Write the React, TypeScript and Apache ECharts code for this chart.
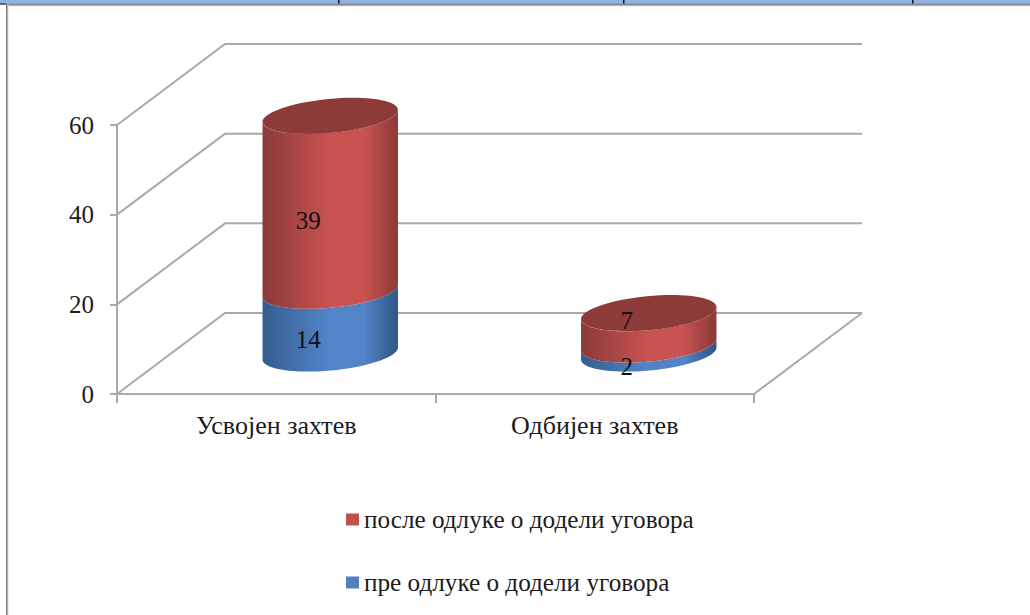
import React, { useEffect, useRef } from "react";
import * as echarts from "echarts";

const categories = ["Усвојен захтев", "Одбијен захтев"];
const beforeName = "пре одлуке о додели уговора";
const afterName = "после одлуке о додели уговора";
const beforeValues = [14, 2];
const afterValues = [39, 7];
const yTicks = [0, 20, 40, 60];

const DEPTH_X = 108;
const DEPTH_Y = -81;
const GRID = "#a9a9a9";
const INK = "#1c1c1c";
const SERIF = "'Liberation Serif', 'Times New Roman', serif";
const RX = 68;
const RY = 17;
const TILT = 0.095;
const SMALL_SEGMENT = 10;

const ellipsePoint = (cx: number, cy: number, t: number) => {
  const x = RX * Math.cos(t);
  const y = RY * Math.sin(t);
  return [
    cx + x * Math.cos(TILT) + y * Math.sin(TILT),
    cy - x * Math.sin(TILT) + y * Math.cos(TILT),
  ];
};

// Lower half of the tilted ellipse, between its two horizontal extremes.
const lowerArc = (cx: number, cy: number, reverse: boolean) => {
  const pts: number[][] = [];
  const n = 48;
  const t0 = Math.atan((RY / RX) * Math.tan(TILT));
  for (let i = 0; i <= n; i++) {
    const k = reverse ? n - i : i;
    pts.push(ellipsePoint(cx, cy, t0 + (Math.PI * k) / n));
  }
  return pts;
};

const sideGradient = (edgeL: string, mid: string, edgeR: string) =>
  new echarts.graphic.LinearGradient(0, 0, 1, 0, [
    { offset: 0, color: edgeL },
    { offset: 0.5, color: mid },
    { offset: 0.75, color: mid },
    { offset: 1, color: edgeR },
  ]);

const cylinder =
  (edgeL: string, mid: string, edgeR: string, cap: boolean) =>
  (params: any, api: any) => {
    const base = api.coord([api.value(0), api.value(1)]);
    const top = api.coord([api.value(0), api.value(2)]);
    const cx = base[0] + DEPTH_X / 2;
    const yBase = base[1] + DEPTH_Y / 2;
    const yTop = top[1] + DEPTH_Y / 2;
    const children: any[] = [
      {
        type: "polygon",
        shape: { points: [...lowerArc(cx, yBase, false), ...lowerArc(cx, yTop, true)] },
        style: { fill: sideGradient(edgeL, mid, edgeR), stroke: "none" },
      },
    ];
    if (cap) {
      children.push({
        type: "ellipse",
        x: cx,
        y: yTop,
        rotation: TILT,
        shape: { cx: 0, cy: 0, rx: RX, ry: RY },
        style: { fill: "#8c3b39", stroke: "none" },
      });
    }
    return { type: "group", children };
  };

const renderWalls = (params: any, api: any) => {
  const { x, width } = params.coordSys;
  const v = api.value(0);
  const py = api.coord([0, v])[1];
  const line = { stroke: GRID, lineWidth: 2, fill: "none" };
  const children: any[] = [
    {
      type: "polyline",
      shape: {
        points: [
          [x, py],
          [x + DEPTH_X, py + DEPTH_Y],
          [x + width + DEPTH_X, py + DEPTH_Y],
        ],
      },
      style: line,
    },
  ];
  if (v === 0) {
    children.push({
      type: "polyline",
      shape: {
        points: [
          [x + width + DEPTH_X, py + DEPTH_Y],
          [x + width, py],
        ],
      },
      style: line,
    });
  }
  return { type: "group", children };
};

export default function App() {
  const ref = useRef<HTMLDivElement>(null);
  useEffect(() => {
    const chart = echarts.init(ref.current!, null, { renderer: "svg" });
    chart.setOption({
      animation: false,
      backgroundColor: "#ffffff",
      textStyle: { fontFamily: SERIF },
      grid: { left: 117, top: 125, width: 637, height: 269 },
      xAxis: {
        type: "category",
        data: categories,
        axisLine: { lineStyle: { color: GRID, width: 2 } },
        axisTick: { show: true, length: 9, lineStyle: { color: GRID, width: 2 } },
        axisLabel: { color: INK, fontSize: 26, fontFamily: SERIF, margin: 18 },
        splitLine: { show: false },
      },
      yAxis: {
        type: "value",
        min: 0,
        max: 60,
        interval: 20,
        axisLine: { show: true, lineStyle: { color: GRID, width: 2 } },
        axisTick: { show: true, length: 7, lineStyle: { color: GRID, width: 2 } },
        axisLabel: { color: INK, fontSize: 25, fontFamily: SERIF, margin: 23 },
        splitLine: { show: false },
      },
      legend: {
        data: [afterName, beforeName],
        orient: "vertical",
        left: 346,
        top: 507,
        padding: 0,
        itemWidth: 13,
        itemHeight: 12,
        itemGap: 38,
        icon: "rect",
        textStyle: { color: INK, fontSize: 25.2, fontFamily: SERIF },
      },
      series: [
        {
          type: "custom",
          name: "walls",
          silent: true,
          data: yTicks.map((t) => [t]),
          renderItem: renderWalls,
          encode: { y: 0 },
          z: 1,
        },
        {
          type: "custom",
          name: beforeName,
          itemStyle: { color: "#4f81bd" },
          data: beforeValues.map((v, i) => [i, 0, v]),
          encode: { x: 0, y: [1, 2] },
          renderItem: cylinder("#345d8e", "#5285c8", "#2f5583", false),
          z: 2,
        },
        {
          type: "custom",
          name: afterName,
          itemStyle: { color: "#c0504d" },
          data: afterValues.map((v, i) => [i, beforeValues[i], beforeValues[i] + v]),
          encode: { x: 0, y: [1, 2] },
          renderItem: cylinder("#8a3a38", "#c95351", "#8a3a38", true),
          z: 3,
        },
        {
          type: "custom",
          name: "labels",
          silent: true,
          data: [
            ...beforeValues.map((v, i) => [i, v / 2, v, 0]),
            ...afterValues.map((v, i) =>
              v < SMALL_SEGMENT
                ? [i, beforeValues[i] + v, v, 1]
                : [i, beforeValues[i] + v / 2, v, 0]
            ),
          ],
          encode: { x: 0, y: 1 },
          renderItem: (params: any, api: any) => {
            const p = api.coord([api.value(0), api.value(1)]);
            const onCap = api.value(3) === 1;
            return {
              type: "text",
              x: p[0] + DEPTH_X / 2 - 22,
              y: p[1] + DEPTH_Y / 2 + (onCap ? 7 : 17),
              style: {
                text: String(api.value(2)),
                fill: "#111111",
                font: `25px ${SERIF}`,
                align: "center",
                verticalAlign: "middle",
              },
            };
          },
          z: 4,
        },
      ],
      graphic: [
        { type: "rect", shape: { x: 0, y: 0, width: 1030, height: 3.4 }, style: { fill: "#8db3e2" }, z: 10 },
        { type: "rect", shape: { x: 0, y: 3.4, width: 6, height: 1.2 }, style: { fill: "#111111" }, z: 10 },
        {
          type: "rect",
          shape: { x: 6, y: 3.4, width: 1024, height: 2.8 },
          style: {
            fill: new echarts.graphic.LinearGradient(0, 0, 0, 1, [
              { offset: 0, color: "#5f5f5f" },
              { offset: 1, color: "#cfcfcf" },
            ]),
          },
          z: 10,
        },
        {
          type: "rect",
          shape: { x: 6, y: 4, width: 2.4, height: 611 },
          style: {
            fill: new echarts.graphic.LinearGradient(0, 0, 1, 0, [
              { offset: 0, color: "#6f6f6f" },
              { offset: 1, color: "#d5d5d5" },
            ]),
          },
          z: 10,
        },
        { type: "rect", shape: { x: 338, y: 0, width: 1.5, height: 3.6 }, style: { fill: "#111111" }, z: 11 },
        { type: "rect", shape: { x: 623, y: 0, width: 1.5, height: 3.6 }, style: { fill: "#111111" }, z: 11 },
        { type: "rect", shape: { x: 912, y: 0, width: 1.5, height: 3.6 }, style: { fill: "#111111" }, z: 11 },
      ],
    });
    return () => chart.dispose();
  }, []);
  return (
    <div
      ref={ref}
      style={{ position: "absolute", left: 0, top: 0, width: 1030, height: 615 }}
    />
  );
}
